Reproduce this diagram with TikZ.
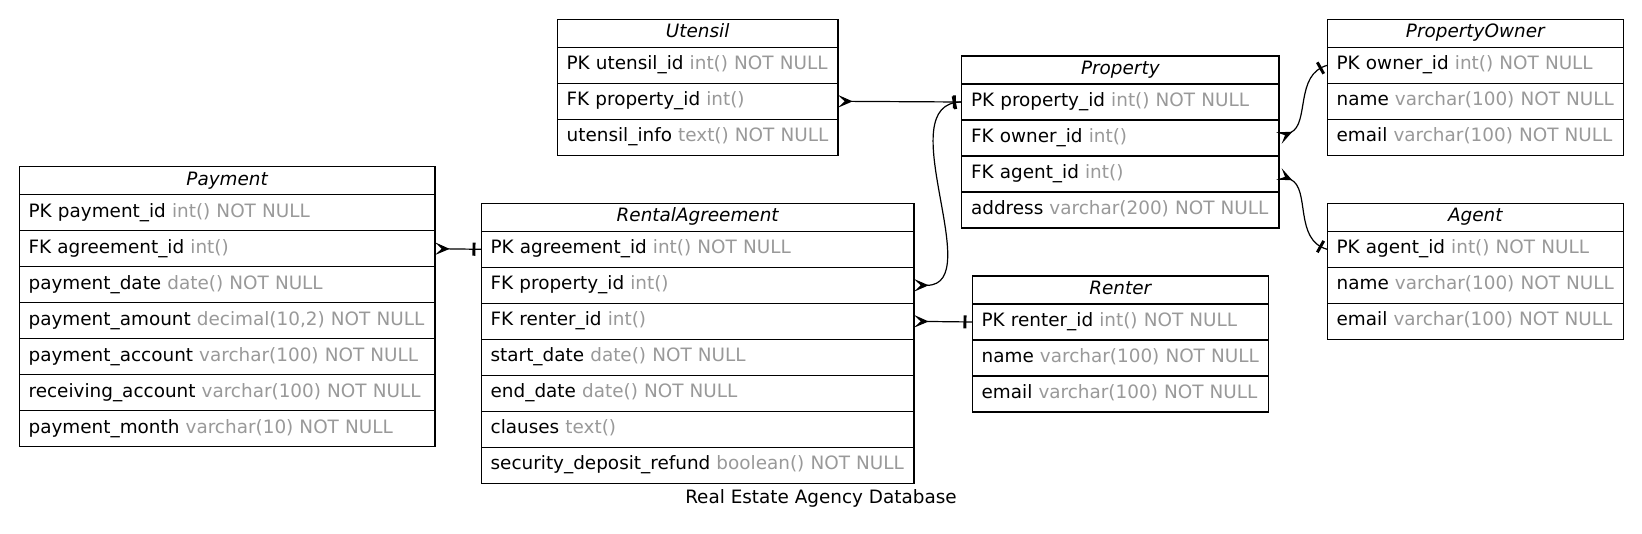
\documentclass[tikz,border=0pt]{standalone}
\usepackage{fontspec}
\setmainfont{DejaVu Sans}
\usetikzlibrary{positioning}
\usetikzlibrary{arrows.meta}
\usetikzlibrary{decorations.markings}
\definecolor{typegray}{HTML}{999999}
\newcommand{\ty}[1]{\textcolor{typegray}{#1}}

\begin{document}
\begin{tikzpicture}[x=0.75pt,y=-0.75pt,line width=0.9pt,node distance=0pt,
   every node/.style={font=\fontsize{13.8}{17}\selectfont,inner sep=0pt,outer sep=0pt,
     text height=10.5pt,text depth=3.5pt},
   colw/.code={\pgfmathsetlengthmacro\colwidth{#1*0.75pt-14pt}%
     \edef\tmp{\noexpand\pgfkeysalso{text width=\colwidth}}\tmp},
   tbltitle/.style={draw,colw=#1,align=center,inner xsep=7pt,minimum height=21pt,
     font=\fontsize{13.8}{17}\selectfont\itshape},
   tblrow/.style={draw,colw=#1,align=left,inner xsep=7pt,minimum height=27pt,
     execute at begin node={\hbox\bgroup},execute at end node={\egroup}},
   crow/.tip={Stealth[reversed,length=11pt,width=9.5pt,inset=5pt]},
   teemark/.style={postaction={decorate},decoration={markings,
     mark=at position -5.5pt with {\fill (-1.1pt,-4.9pt) rectangle (1.1pt,4.9pt);}}}]
\fill[white] (0,0) rectangle (1642,533);

% Utensil
\node[tbltitle=280.7,anchor=north west] (utensil) at (557.3,19.3) {Utensil};
\node[tblrow=280.7,below=of utensil] (utensil-pk) {PK utensil\_id \ty{int() NOT NULL}};
\node[tblrow=280.7,below=of utensil-pk] (utensil-fk) {FK property\_id \ty{int()}};
\node[tblrow=280.7,below=of utensil-fk] (utensil-info) {utensil\_info \ty{text() NOT NULL}};

% Property
\node[tbltitle=317.3,anchor=north west] (property) at (961.7,56) {Property};
\node[tblrow=317.3,below=of property] (property-pk) {PK property\_id \ty{int() NOT NULL}};
\node[tblrow=317.3,below=of property-pk] (property-fk1) {FK owner\_id \ty{int()}};
\node[tblrow=317.3,below=of property-fk1] (property-fk2) {FK agent\_id \ty{int()}};
\node[tblrow=317.3,below=of property-fk2] (property-addr) {address \ty{varchar(200) NOT NULL}};

% PropertyOwner
\node[tbltitle=296,anchor=north west] (owner) at (1327.3,19.3) {PropertyOwner};
\node[tblrow=296,below=of owner] (owner-pk) {PK owner\_id \ty{int() NOT NULL}};
\node[tblrow=296,below=of owner-pk] (owner-name) {name \ty{varchar(100) NOT NULL}};
\node[tblrow=296,below=of owner-name] (owner-mail) {email \ty{varchar(100) NOT NULL}};

% Agent
\node[tbltitle=296,anchor=north west] (agent) at (1327.3,203.3) {Agent};
\node[tblrow=296,below=of agent] (agent-pk) {PK agent\_id \ty{int() NOT NULL}};
\node[tblrow=296,below=of agent-pk] (agent-name) {name \ty{varchar(100) NOT NULL}};
\node[tblrow=296,below=of agent-name] (agent-mail) {email \ty{varchar(100) NOT NULL}};

% Renter
\node[tbltitle=296,anchor=north west] (renter) at (972.3,276) {Renter};
\node[tblrow=296,below=of renter] (renter-pk) {PK renter\_id \ty{int() NOT NULL}};
\node[tblrow=296,below=of renter-pk] (renter-name) {name \ty{varchar(100) NOT NULL}};
\node[tblrow=296,below=of renter-name] (renter-mail) {email \ty{varchar(100) NOT NULL}};

% Payment
\node[tbltitle=415.7,anchor=north west] (payment) at (19.3,166.7) {Payment};
\node[tblrow=415.7,below=of payment] (payment-pk) {PK payment\_id \ty{int() NOT NULL}};
\node[tblrow=415.7,below=of payment-pk] (payment-fk) {FK agreement\_id \ty{int()}};
\node[tblrow=415.7,below=of payment-fk] (payment-date) {payment\_date \ty{date() NOT NULL}};
\node[tblrow=415.7,below=of payment-date] (payment-amount) {payment\_amount \ty{decimal(10,2) NOT NULL}};
\node[tblrow=415.7,below=of payment-amount] (payment-acc) {payment\_account \ty{varchar(100) NOT NULL}};
\node[tblrow=415.7,below=of payment-acc] (payment-recv) {receiving\_account \ty{varchar(100) NOT NULL}};
\node[tblrow=415.7,below=of payment-recv] (payment-month) {payment\_month \ty{varchar(10) NOT NULL}};

% RentalAgreement
\node[tbltitle=432.7,anchor=north west] (ra) at (481.3,203.3) {RentalAgreement};
\node[tblrow=432.7,below=of ra] (ra-pk) {PK agreement\_id \ty{int() NOT NULL}};
\node[tblrow=432.7,below=of ra-pk] (ra-fk1) {FK property\_id \ty{int()}};
\node[tblrow=432.7,below=of ra-fk1] (ra-fk2) {FK renter\_id \ty{int()}};
\node[tblrow=432.7,below=of ra-fk2] (ra-start) {start\_date \ty{date() NOT NULL}};
\node[tblrow=432.7,below=of ra-start] (ra-end) {end\_date \ty{date() NOT NULL}};
\node[tblrow=432.7,below=of ra-end] (ra-clauses) {clauses \ty{text()}};
\node[tblrow=432.7,below=of ra-clauses] (ra-refund) {security\_deposit\_refund \ty{boolean() NOT NULL}};

\node (caption) at (821,499) {Real Estate Agency Database};

% relations
\draw[crow-,teemark] (utensil-fk.east) -- (property-pk.west);
\draw[crow-,teemark] (payment-fk.east) -- (ra-pk.west);
\draw[crow-,teemark] (ra-fk1.east) to[out=0,in=180] (property-pk.west);
\draw[crow-,teemark] (property-fk1.east) to[out=25,in=195] (owner-pk.west);
\draw[crow-,teemark] (property-fk2.east) to[out=-25,in=165] (agent-pk.west);
\draw[crow-,teemark] (ra-fk2.east) -- (renter-pk.west);
\end{tikzpicture}
\end{document}
